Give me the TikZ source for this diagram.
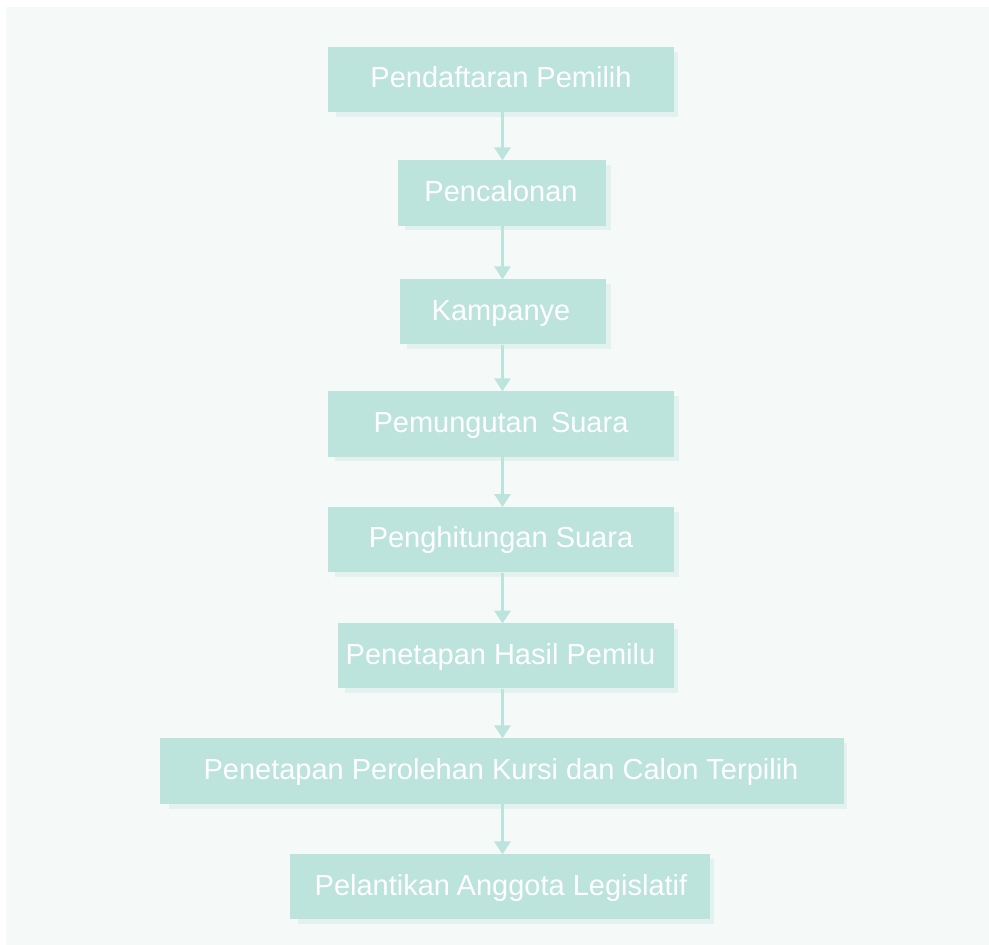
\documentclass[tikz,border=0pt]{standalone}
\usepackage{fontspec}
\setmainfont{Liberation Sans}
\usetikzlibrary{shadows,arrows.meta}
\definecolor{bgc}{HTML}{F5FAF9}
\definecolor{boxc}{HTML}{BCE3DC}
\definecolor{shc}{HTML}{E3F2EF}
\tikzset{
  stepbox/.style={rectangle, fill=boxc, draw=none, inner sep=0pt,
    general shadow={fill=shc, shadow xshift=6pt, shadow yshift=-5pt, shadow scale=0.99}},
  steptext/.style={text=white, inner sep=0pt, font=\fontsize{29}{34}\selectfont,
    text height=20.8pt, text depth=4pt},
  arr/.style={draw=boxc, line width=3pt, -{Triangle[length=13pt,width=16pt]}, shorten >=-0.5pt}
}
\begin{document}
\begin{tikzpicture}[x=1pt,y=-1pt]
\useasboundingbox (0,0) rectangle (989,945);
\fill[white] (0,0) rectangle (989,945);
\fill[bgc] (6,7) rectangle (989,945);
\coordinate (ax) at (502.5,0);
% boxes: center x, center y, width, height
\node[stepbox, minimum width=346pt, minimum height=65pt] (b1) at (501,79.5) {};
\node[stepbox, minimum width=208pt, minimum height=65.5pt] (b2) at (502,192.8) {};
\node[stepbox, minimum width=206pt, minimum height=65.3pt] (b3) at (503,311.7) {};
\node[stepbox, minimum width=346.6pt, minimum height=65.7pt] (b4) at (501,423.8) {};
\node[stepbox, minimum width=346.6pt, minimum height=65.6pt] (b5) at (501,539.5) {};
\node[stepbox, minimum width=336.3pt, minimum height=65pt] (b6) at (505.8,655.8) {};
\node[stepbox, minimum width=684pt, minimum height=66pt] (b7) at (502,771) {};
\node[stepbox, minimum width=420pt, minimum height=65.3pt] (b8) at (500,886.7) {};
% texts
\node[steptext] (t1) at (501,79.5) {Pendaftaran Pemilih};
\node[steptext] (t2) at (501,192.8) {Pencalonan};
\node[steptext] (t3) at (501,311.7) {Kampanye};
\node[steptext] (t4) at (501,423.8) {Pemungutan\hspace{0.45em}Suara};
\node[steptext] (t5) at (501,539.5) {Penghitungan Suara};
\node[steptext] (t6) at (500.5,655.8) {Penetapan Hasil Pemilu};
\node[steptext] (t7) at (501,771) {Penetapan Perolehan Kursi dan Calon Terpilih};
\node[steptext] (t8) at (501,886.7) {Pelantikan\hspace{-0.05em} Anggota Legislatif};
% connectors
\draw[arr] (b1.south -| ax) -- (b2.north -| ax);
\draw[arr] (b2.south -| ax) -- (b3.north -| ax);
\draw[arr] (b3.south -| ax) -- (b4.north -| ax);
\draw[arr] (b4.south -| ax) -- (b5.north -| ax);
\draw[arr] (b5.south -| ax) -- (b6.north -| ax);
\draw[arr] (b6.south -| ax) -- (b7.north -| ax);
\draw[arr] (b7.south -| ax) -- (b8.north -| ax);
\end{tikzpicture}
\end{document}
